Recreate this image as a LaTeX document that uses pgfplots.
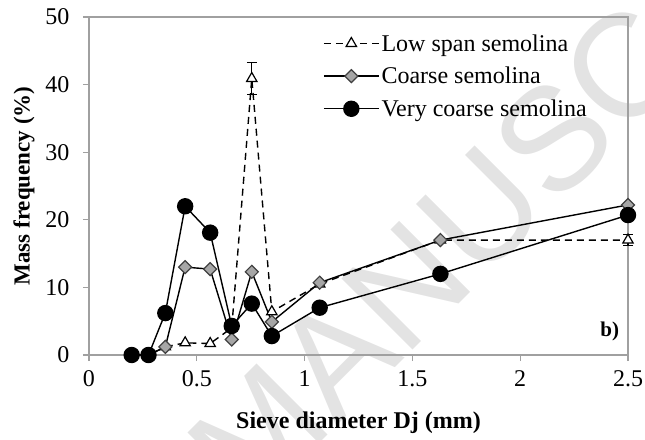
\documentclass[border=0pt]{standalone}
\usepackage{fontspec}
\setmainfont{Liberation Serif}
\newfontfamily\wmfont{Liberation Sans}
\usepackage{pgfplots}
\pgfplotsset{compat=1.18}
\definecolor{dgray}{HTML}{A0A0A0}
\definecolor{mgray}{HTML}{A6A6A6}
\definecolor{wm}{HTML}{E3E3E3}
\begin{document}
\begin{tikzpicture}[x=1pt,y=1pt]
\useasboundingbox (0,0) rectangle (645,439);
% watermark
\node[rotate=45, anchor=base west, inner sep=0pt, text=wm,
      font=\wmfont\fontsize{146}{146}\selectfont] at (250,-74) {MANUSCRIPT};
\begin{axis}[
  at={(89pt,84pt)}, anchor=south west,
  scale only axis, width=539pt, height=338pt,
  xmin=0, xmax=2.5, ymin=0, ymax=50,
  xtick={0,0.5,1,1.5,2,2.5},
  ytick={0,10,20,30,40,50},
  xticklabels={0,0.5,1,1.5,2,2.5},
  axis line style={dgray, line width=1.2pt},
  tick style={dgray, line width=1.2pt},
  tick align=outside, major tick length=6pt,
  xtick pos=bottom, ytick pos=left,
  /pgf/number format/assume math mode=true,
  ticklabel style={font=\fontsize{24}{24}\selectfont},
  yticklabel style={xshift=-10pt},
  xticklabel style={yshift=-6pt},
  xlabel={\textbf{Sieve diameter Dj (mm)}},
  ylabel={\textbf{Mass frequency (\%)}},
  xlabel style={font=\fontsize{24}{24}\selectfont, at={(axis description cs:0.5,-0.201)}, anchor=center},
  ylabel style={font=\fontsize{23}{23}\selectfont, at={(axis description cs:-0.1206,0.5)}, anchor=center, rotate=0},
  legend style={at={(axis description cs:0.434,0.955)}, anchor=north west,
    draw=none, fill=none, font=\fontsize{24}{24}\selectfont,
    row sep=10.5pt, inner sep=0pt, nodes={inner sep=2pt}},
  legend cell align=left,
  legend image code/.code={
    \draw[#1] (0pt,0pt) -- (55pt,0pt);
    \path plot[#1, solid, mark size=5pt] coordinates {(27.5pt,0pt)};
  },
  clip=false,
]
\addplot[black, line width=1.4pt, dash pattern=on 7pt off 5pt, mark=triangle*,
  mark options={solid, fill=white, draw=black, line width=1.2pt, mark size=6pt},
  error bars/.cd, y dir=both, y explicit,
  error bar style={solid, black, line width=1.2pt},
  error mark options={rotate=90, mark size=5pt, solid, black, line width=1.2pt}]
coordinates {
  (0.198,0) (0.276,0) (0.354,1.2) (0.446,1.8) (0.562,1.7) (0.662,4.0)
  (0.755,40.9) +- (0,2.4)
  (0.848,6.4) (1.07,10.5) (1.63,17.0)
  (2.5,17.0) +- (0,0.8)
};
\addlegendentry{Low span semolina}
\addplot[black, line width=1.4pt, mark=square*,
  mark options={rotate=45, fill=mgray, draw=black!75, line width=1.2pt, mark size=4.6pt}]
coordinates {
  (0.198,0) (0.276,0) (0.354,1.2) (0.446,13.0) (0.562,12.7) (0.662,2.3)
  (0.755,12.3) (0.848,4.9) (1.07,10.7) (1.63,17.0) (2.5,22.2)
};
\addlegendentry{Coarse semolina}
\addplot[black, line width=1.4pt, mark=*,
  mark options={fill=black, draw=black, mark size=7.5pt}]
coordinates {
  (0.198,0) (0.276,0) (0.354,6.2) (0.446,22.0) (0.562,18.1) (0.662,4.3)
  (0.755,7.6) (0.848,2.8) (1.07,7.0) (1.63,12.0) (2.5,20.7)
};
\addlegendentry{Very coarse semolina}
\node[font=\bfseries\fontsize{21}{21}\selectfont] at (axis cs:2.415,3.5) {b)};
\end{axis}
\end{tikzpicture}
\end{document}
